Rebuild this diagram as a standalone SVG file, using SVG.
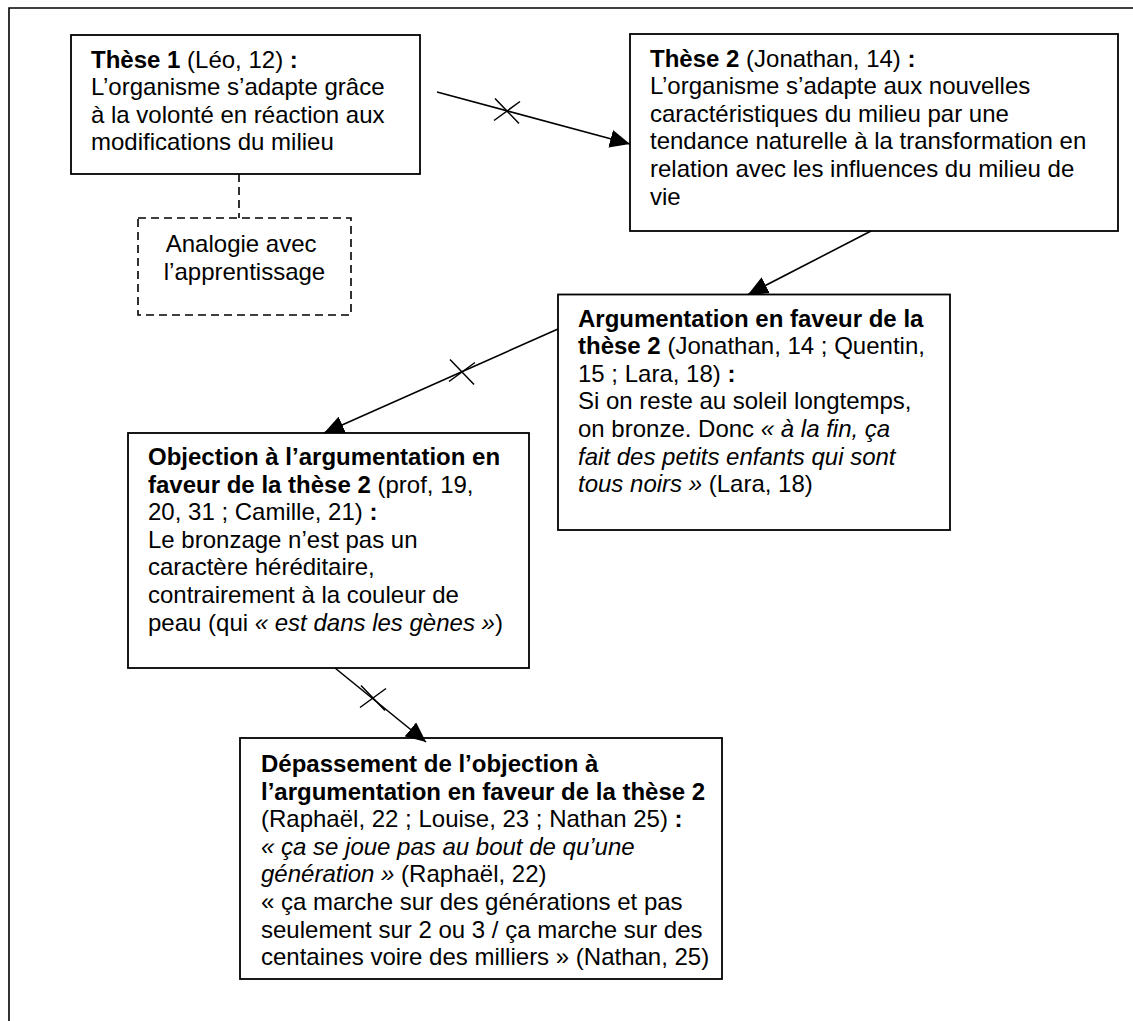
<svg xmlns="http://www.w3.org/2000/svg" width="1133" height="1021" viewBox="0 0 1133 1021">
<style>
  .frame { fill: none; stroke: #000; stroke-width: 1.6; }
  .box { fill: #fff; stroke: #000; stroke-width: 1.8; }
  .dbox { fill: #fff; stroke: #000; stroke-width: 1.6; stroke-dasharray: 8 5; }
  .dline { fill: none; stroke: #000; stroke-width: 1.6; stroke-dasharray: 8 5; }
  .conn { fill: none; stroke: #000; stroke-width: 1.6; marker-end: url(#arrow); }
  .cross { fill: none; stroke: #000; stroke-width: 1.5; }
  text { font-family: "Liberation Sans", Arial, sans-serif; font-size: 24px; fill: #000; }
  .b { font-weight: bold; }
  .i { font-style: italic; }
  .c { text-anchor: middle; }
</style>
<defs>
  <marker id="arrow" markerUnits="userSpaceOnUse" viewBox="0 -9 20 18" refX="20" refY="0" markerWidth="20" markerHeight="18" orient="auto">
    <path d="M0,-9 L20,0 L0,9 z" fill="#000"/>
  </marker>
  <path id="x" d="M-12,-12.5 L12,12.5 M-13,9.5 L13,-9.5"/>
</defs>

<g id="frame">
  <path class="frame" d="M9,1021 L9,8 L1133,8"/>
</g>

<g id="these1">
  <rect class="box" x="71" y="35" width="349" height="139"/>
  <text>
    <tspan x="91" y="67.5"><tspan class="b">Thèse 1</tspan> (Léo, 12) <tspan class="b">:</tspan></tspan>
    <tspan x="91" y="95.1">L’organisme s’adapte grâce</tspan>
    <tspan x="91" y="122.7">à la volonté en réaction aux</tspan>
    <tspan x="91" y="150.3">modifications du milieu</tspan>
  </text>
</g>

<g id="analogie">
  <rect class="dbox" x="138" y="218" width="213" height="97"/>
  <text class="c">
    <tspan x="244.5" y="252">Analogie avec</tspan>
    <tspan x="244.5" y="279.6">l’apprentissage</tspan>
  </text>
</g>

<g id="these2">
  <rect class="box" x="630" y="34" width="488" height="197"/>
  <text>
    <tspan x="650" y="66.5"><tspan class="b">Thèse 2</tspan> (Jonathan, 14) <tspan class="b">:</tspan></tspan>
    <tspan x="650" y="94.1">L’organisme s’adapte aux nouvelles</tspan>
    <tspan x="650" y="121.7">caractéristiques du milieu par une</tspan>
    <tspan x="650" y="149.3">tendance naturelle à la transformation en</tspan>
    <tspan x="650" y="176.9">relation avec les influences du milieu de</tspan>
    <tspan x="650" y="204.5">vie</tspan>
  </text>
</g>

<g id="argumentation">
  <rect class="box" x="558" y="294.5" width="392" height="235.5"/>
  <text>
    <tspan x="578" y="326.5" class="b">Argumentation en faveur de la</tspan>
    <tspan x="578" y="354.1"><tspan class="b">thèse 2</tspan> (Jonathan, 14 ; Quentin,</tspan>
    <tspan x="578" y="381.7">15 ; Lara, 18) <tspan class="b">:</tspan></tspan>
    <tspan x="578" y="409.3">Si on reste au soleil longtemps,</tspan>
    <tspan x="578" y="436.9">on bronze. Donc <tspan class="i">« à la fin, ça</tspan></tspan>
    <tspan x="578" y="464.5" class="i">fait des petits enfants qui sont</tspan>
    <tspan x="578" y="492.1"><tspan class="i">tous noirs »</tspan> (Lara, 18)</tspan>
  </text>
</g>

<g id="objection">
  <rect class="box" x="128" y="433" width="401" height="235"/>
  <text>
    <tspan x="148" y="465" class="b">Objection à l’argumentation en</tspan>
    <tspan x="148" y="492.6"><tspan class="b">faveur de la thèse 2</tspan> (prof, 19,</tspan>
    <tspan x="148" y="520.2">20, 31 ; Camille, 21) <tspan class="b">:</tspan></tspan>
    <tspan x="148" y="547.8">Le bronzage n’est pas un</tspan>
    <tspan x="148" y="575.4">caractère héréditaire,</tspan>
    <tspan x="148" y="603">contrairement à la couleur de</tspan>
    <tspan x="148" y="630.6">peau (qui <tspan class="i">« est dans les gènes »</tspan>)</tspan>
  </text>
</g>

<g id="depassement">
  <rect class="box" x="240" y="738" width="482" height="241"/>
  <text>
    <tspan x="261" y="772" class="b">Dépassement de l’objection à</tspan>
    <tspan x="261" y="799.6" class="b">l’argumentation en faveur de la thèse 2</tspan>
    <tspan x="261" y="827.2">(Raphaël, 22 ; Louise, 23 ; Nathan 25) <tspan class="b">:</tspan></tspan>
    <tspan x="261" y="854.8" class="i">« ça se joue pas au bout de qu’une</tspan>
    <tspan x="261" y="882.4"><tspan class="i">génération »</tspan> (Raphaël, 22)</tspan>
    <tspan x="261" y="910">« ça marche sur des générations et pas</tspan>
    <tspan x="261" y="937.6">seulement sur 2 ou 3 / ça marche sur des</tspan>
    <tspan x="261" y="965.2">centaines voire des milliers » (Nathan, 25)</tspan>
  </text>
</g>

<g id="connectors">
  <line class="dline" x1="239" y1="174" x2="239" y2="218"/>
  <line class="conn" x1="437" y1="92" x2="630" y2="144"/>
  <line class="conn" x1="871" y1="231" x2="748" y2="294.5"/>
  <line class="conn" x1="558" y1="329" x2="324" y2="433"/>
  <line class="conn" x1="335" y1="668" x2="426" y2="742"/>
  <use href="#x" class="cross" x="507" y="111"/>
  <use href="#x" class="cross" x="462" y="372"/>
  <use href="#x" class="cross" x="373" y="698"/>
</g>
</svg>
